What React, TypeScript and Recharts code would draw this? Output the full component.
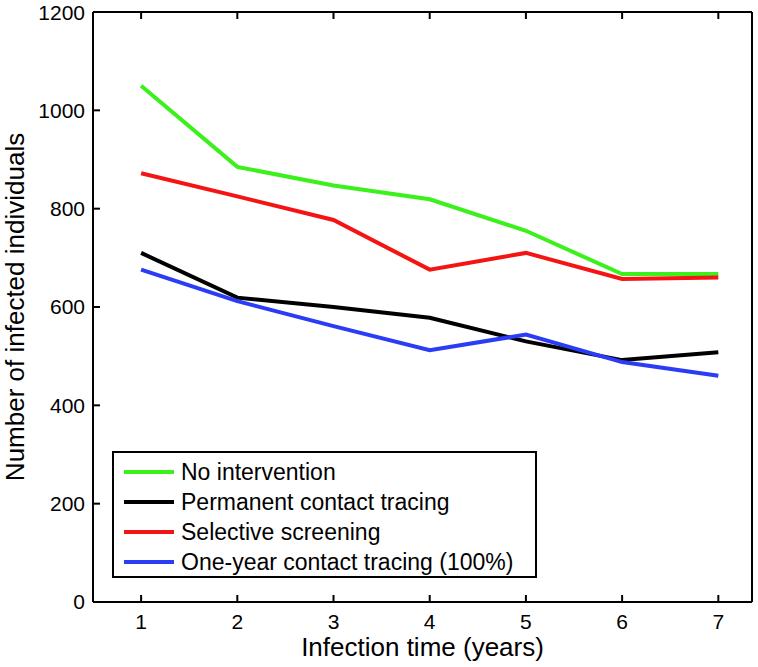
import React from 'react';
import { LineChart, Line, XAxis, YAxis, Legend } from 'recharts';

const years = [1, 2, 3, 4, 5, 6, 7];
const noIntervention = [1050, 885, 847, 819, 755, 667, 667];
const permanentTracing = [710, 619, 600, 578, 530, 492, 508];
const selectiveScreening = [872, 825, 777, 676, 710, 657, 660];
const oneYearTracing = [676, 612, 561, 512, 544, 488, 460];
const yTicks = [0, 200, 400, 600, 800, 1000, 1200];

const FONT = '"Liberation Sans", Arial, Helvetica, sans-serif';

const series = [
  { key: 'noIntervention', name: 'No intervention', color: '#3cf01c' },
  { key: 'permanentTracing', name: 'Permanent contact tracing', color: '#000000' },
  { key: 'selectiveScreening', name: 'Selective screening', color: '#f51414' },
  { key: 'oneYearTracing', name: 'One-year contact tracing (100%)', color: '#2a3cf5' },
];

const data = years.map((year, i) => ({
  year,
  noIntervention: noIntervention[i],
  permanentTracing: permanentTracing[i],
  selectiveScreening: selectiveScreening[i],
  oneYearTracing: oneYearTracing[i],
}));

const tickStyle = { fontSize: 21, fill: '#000', fontFamily: FONT };
const axisLine = { stroke: '#000', strokeWidth: 2 };
const tickLine = { stroke: '#000', strokeWidth: 2 };

// legend box drawn by hand so it matches the boxed matlab style
const renderLegend = () => (
  <div
    style={{
      border: '2px solid #000',
      background: '#fff',
      boxSizing: 'border-box',
      height: 127,
      padding: '4px 0 0 10px',
      fontFamily: FONT,
      fontSize: 23,
      color: '#000',
    }}
  >
    {series.map((s) => (
      <div key={s.key} style={{ display: 'flex', alignItems: 'center', height: 30 }}>
        <span style={{ display: 'inline-block', width: 50, height: 4, background: s.color, marginRight: 7 }} />
        <span>{s.name}</span>
      </div>
    ))}
  </div>
);

const YLabel = (props: any) => {
  const vb = props.viewBox || { x: 0, y: 12, height: 590 };
  const cx = 15;
  const cy = vb.y + vb.height / 2;
  return (
    <text
      x={cx}
      y={cy}
      transform={`rotate(-90, ${cx}, ${cy})`}
      textAnchor="middle"
      dominantBaseline="central"
      fontSize={26}
      fontFamily={FONT}
      fill="#000"
    >
      Number of infected individuals
    </text>
  );
};

const XLabel = (props: any) => {
  const vb = props.viewBox || { x: 93, y: 602, width: 659 };
  return (
    <text
      x={vb.x + vb.width / 2}
      y={656}
      textAnchor="middle"
      fontSize={26}
      fontFamily={FONT}
      fill="#000"
    >
      Infection time (years)
    </text>
  );
};

export default function App() {
  return (
    <div style={{ position: 'absolute', left: 0, top: 0, background: '#fff' }}>
      <LineChart
        width={758}
        height={667}
        data={data}
        margin={{ top: 11, right: 5, bottom: 0, left: 0 }}
      >
        <XAxis
          dataKey="year"
          type="number"
          domain={[0.5, 7.35]}
          ticks={years}
          height={65}
          axisLine={axisLine}
          tickLine={tickLine}
          tickSize={-7}
          tickMargin={19}
          tick={tickStyle}
          label={<XLabel />}
        />
        <XAxis
          xAxisId="top"
          orientation="top"
          dataKey="year"
          type="number"
          domain={[0.5, 7.35]}
          ticks={years}
          height={1}
          axisLine={axisLine}
          tickLine={tickLine}
          tickSize={-7}
          tickFormatter={() => ''}
        />
        <YAxis
          type="number"
          domain={[0, 1200]}
          ticks={yTicks}
          width={93}
          axisLine={axisLine}
          tickLine={tickLine}
          tickSize={-7}
          tickMargin={15}
          tick={tickStyle}
          label={<YLabel />}
        />
        <YAxis
          yAxisId="right"
          orientation="right"
          type="number"
          domain={[0, 1200]}
          ticks={yTicks}
          width={1}
          axisLine={axisLine}
          tickLine={tickLine}
          tickSize={-7}
          tickFormatter={() => ''}
        />
        <Legend
          layout="vertical"
          align="center"
          verticalAlign="middle"
          content={renderLegend}
          wrapperStyle={{ left: 112, top: 451, width: 425 }}
        />
        {series.map((s) => (
          <Line
            key={s.key}
            type="linear"
            dataKey={s.key}
            name={s.name}
            stroke={s.color}
            strokeWidth={4}
            dot={false}
            activeDot={false}
            isAnimationActive={false}
          />
        ))}
      </LineChart>
    </div>
  );
}
